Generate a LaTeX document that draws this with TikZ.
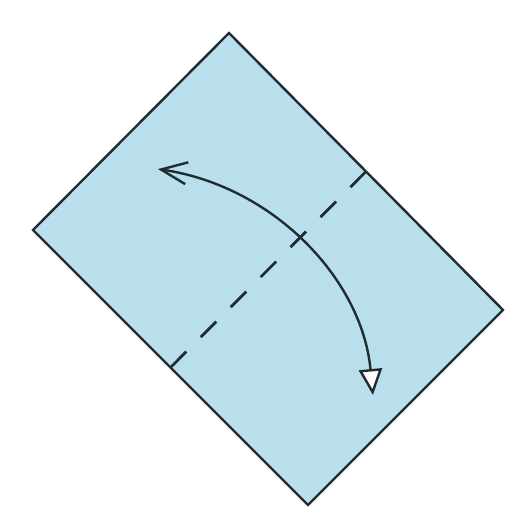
\documentclass[tikz,border=0pt]{standalone}
\usetikzlibrary{arrows.meta,calc}
\definecolor{ink}{HTML}{1F2C33}
\definecolor{paper}{HTML}{BADFEC}
\tikzset{sheet/.style={draw=ink,fill=paper,line width=0.6mm,line join=miter},valley/.style={draw=ink,line width=0.7mm,dash pattern=on 5.5mm off 5.1mm},flip/.style={draw=ink,line width=0.6mm,{Straight Barb[length=6.5mm,width=5.5mm,line width=0.6mm]}-{Triangle[open,fill=white,length=6.5mm,width=5.8mm,line width=0.6mm]}}}
\begin{document}
\begin{tikzpicture}[x=0.25mm,y=0.25mm]
\useasboundingbox (0,0) rectangle (527,529);
\coordinate (top) at (229,496);\coordinate (left) at (33,299);\coordinate (bot) at (308,24);\coordinate (right) at (503,219);
\draw[sheet] (top)--(right)--(bot)--(left)--cycle;
\coordinate (m1) at ($(top)!.5!(right)$);\coordinate (m2) at ($(left)!.5!(bot)$);
\draw[valley] (m1)--(m2);
\coordinate (ctr) at (122,110.5);
\draw[flip] ($(ctr)+(81.8:252)$) arc[start angle=81.8,end angle=5.35,radius=252];
\end{tikzpicture}
\end{document}
